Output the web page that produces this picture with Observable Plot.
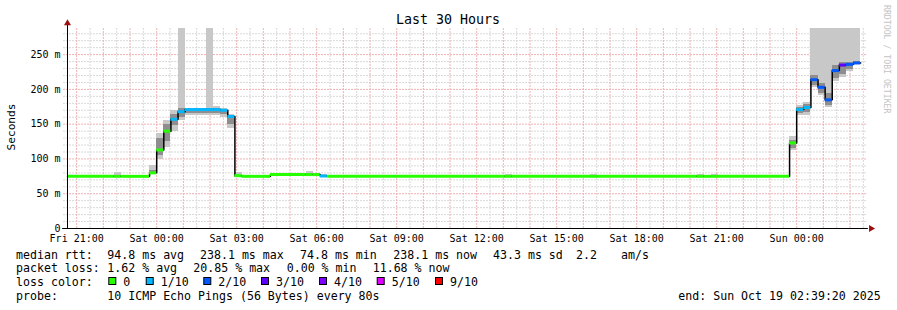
<!DOCTYPE html>
<html><head><meta charset="utf-8">
<script src="https://cdn.jsdelivr.net/npm/d3@7"></script>
<script src="https://cdn.jsdelivr.net/npm/@observablehq/plot@0.6"></script>
<style>
body{margin:0;background:#fff;}
#wrap{position:relative;width:897px;height:310px;background:#fff;overflow:hidden;}
#wrap svg{position:absolute;left:0;top:0;}
</style></head><body><div id="wrap"></div>
<script>
// ---- data (times UTC as shown on chart clock) ----
const rangeStart = "2025-10-17T20:39:20Z";
const rangeEnd = "2025-10-19T02:39:20Z";
const segStart = ["17T20:39:20","17T22:24","17T22:40","17T23:44","18T00:00","18T00:16","18T00:32","18T00:48",
  "18T01:04","18T01:52","18T02:08","18T02:24","18T02:40","18T02:56","18T03:12","18T04:16","18T05:36","18T05:52",
  "18T06:08","18T06:24","18T13:04","18T13:20","18T16:16","18T16:32","18T20:16","18T20:32","18T20:48","18T21:04",
  "18T23:44","19T00:00","19T00:16","19T00:32","19T00:48","19T01:04","19T01:20","19T01:36","19T01:52","19T02:08"];
const lastSegEnd = "19T02:24";
const median = [75,75,75,80,113,140,157,168,171,171,171,170,161,76,75,77.5,77.5,77.5,75.5,75,
  75,75,75,75,75,75,75,75,123,171,174,214,203,185,227,235,236,238];
const lossLevel = [0,0,0,0,0,0,1,1,1,1,1,1,1,0,0,0,0,0,1,0,0,0,0,0,0,0,0,0,0,1,1,2,2,2,2,3,2,2];
const smokeLo = [74,74,74,77,99,117,140,155,163,163,163,160,144,74,74,76,76,76,74,74,
  74,74,74,74,74,74,74,74,112,162,162,203,191,174,212,217,226,237];
const smokeHi = [76,80,76,90,136,156,170,288,172,288,175,172,164,81,76,79,82,79,77,76,
  78,76,78,76,78,76,78,76,132,177,181,288,288,288,288,288,288,288];
const coreLo = [null,null,null,78,105,125,148,160,166,166,166,164,150,null,null,null,null,null,null,null,
  null,null,null,null,null,null,null,null,115,165,167,205,194,177,215,222,228,237];
const coreHi = [null,null,null,84,130,150,164,172,171,172,173,171,160,null,null,null,null,null,null,null,
  null,null,null,null,null,null,null,null,126,174,178,220,209,194,234,239,239,240];
const yTicks = [0,50,100,150,200,250];
const lossLabels = ["0","1/10","2/10","3/10","4/10","5/10","9/10"];
const lossColors = ["#26ff00","#00b8ff","#0059ff","#5e00ff","#7e00ff","#dd00ff","#ff0000"];
const rttStats = ["94.8 ms avg","238.1 ms max","74.8 ms min","238.1 ms now","43.3 ms sd","2.2","am/s"];
const lossStats = ["1.62 % avg","20.85 % max","0.00 % min","11.68 % now"];
const probeText = "10 ICMP Echo Pings (56 Bytes) every 80s";
const endText = "end: Sun Oct 19 02:39:20 2025";
const titleText = "Last 30 Hours";
const yLabel = "Seconds";
const watermark = "RRDTOOL / TOBI OETIKER";

// ---- build ----
const tStart = new Date(rangeStart), tEnd = new Date(rangeEnd);
const toDate = s => new Date("2025-10-" + s + "Z");
const segs = segStart.map((s, i) => ({
  x1: toDate(s), x2: toDate(i < segStart.length - 1 ? segStart[i + 1] : lastSegEnd),
  med: median[i], loss: lossLevel[i], lo: smokeLo[i], hi: smokeHi[i], clo: coreLo[i], chi: coreHi[i]
}));
const stepPts = segs.map(d => ({t: d.x1, v: d.med})).concat([{t: segs[segs.length-1].x2, v: segs[segs.length-1].med}]);
const MIN = 60000;
const hours = d3.utcHour.range(tStart, tEnd);
const halfHours = d3.utcMinute.every(30).range(tStart, tEnd).filter(d => d.getUTCMinutes() === 30);
const yMinor = d3.range(10, 289, 10).filter(v => v % 50 !== 0);
const yMajor = [50,100,150,200,250];
const xTicks = d3.utcHour.every(3).range(tStart, tEnd);
const leftX = new Date(+tStart - 9 * MIN);
const dash = "2,1";

const chart = Plot.plot({
  width: 897, height: 310,
  marginLeft: 67, marginRight: 30, marginTop: 27, marginBottom: 82,
  style: {fontFamily: "'DejaVu Sans Mono', monospace", fontSize: "10px", color: "#000", background: "transparent"},
  x: {type: "utc", domain: [tStart, tEnd], ticks: xTicks, tickFormat: d3.utcFormat("%a %H:%M"), tickSize: 0, tickPadding: 6, label: null},
  y: {domain: [0, 289], ticks: yTicks, tickFormat: d => d === 0 ? "0" : d + " m", tickSize: 0, tickPadding: 7, label: null},
  marks: [
    Plot.ruleY(yMinor, {x1: leftX, x2: tEnd, stroke: "#d9d9d9", strokeDasharray: dash}),
    Plot.ruleX(halfHours, {y1: 0, y2: 289, stroke: "#d9d9d9", strokeDasharray: dash}),
    Plot.ruleX(hours, {y1: 0, y2: 289, stroke: "#f0b2b2", strokeDasharray: dash}),
    Plot.ruleY(yMajor, {x1: leftX, x2: tEnd, stroke: "#f0b2b2", strokeDasharray: dash}),
    Plot.rect(segs, {x1: "x1", x2: "x2", y1: "lo", y2: "hi", fill: "#c8c8c8", shapeRendering: "crispEdges"}),
    Plot.rect(segs.filter(d => d.clo != null), {x1: "x1", x2: "x2", y1: "clo", y2: "chi", fill: "#8e8e8e", shapeRendering: "crispEdges"}),
    Plot.line(stepPts, {x: "t", y: "v", curve: "step-after", stroke: "#000", strokeWidth: 1.5}),
    Plot.ruleY(segs, {y: "med", x1: "x1", x2: "x2", stroke: d => lossColors[d.loss], strokeWidth: 3}),
    Plot.ruleX([tStart], {y1: 0, y2: 293, stroke: "#000"}),
    Plot.ruleY([0], {x1: new Date(+tStart - 11 * MIN), x2: new Date(+tEnd + 2 * MIN), stroke: "#000"}),
    Plot.dot([tStart], {x: d => d, y: 295, symbol: "triangle", r: 2.6, fill: "#9a1010"}),
    Plot.dot([tEnd], {x: d => new Date(+d + 8 * MIN), y: 0, symbol: "triangle", r: 2.6, fill: "#9a1010", rotate: 90})
  ]
});
document.getElementById("wrap").appendChild(chart);

// ---- overlay texts ----
const ov = d3.select("#wrap").append("svg").attr("width", 897).attr("height", 310)
  .attr("font-family", "'DejaVu Sans Mono', monospace").attr("fill", "#000");
ov.append("text").attr("x", 448).attr("y", 24).attr("text-anchor", "middle").attr("font-size", 13.3).text(titleText);
ov.append("text").attr("transform", "translate(15,127) rotate(-90)").attr("text-anchor", "middle").attr("font-size", 11.2).text(yLabel);
ov.append("text").attr("transform", "translate(884,5) rotate(90)").attr("font-size", 8.2).attr("fill", "#c4c4c4").text(watermark);

const fs = 11.6;
const line = (y, x, s) => ov.append("text").attr("x", x).attr("y", y).attr("font-size", fs).style("white-space", "pre").text(s);
line(258.5, 16, "median rtt:");
[107.3, 200, 300, 393.3, 493, 576, 621].forEach((x, i) => line(258.5, x, rttStats[i]));
line(272.3, 16, "packet loss:");
[107.3, 193.3, 286.7, 372.7].forEach((x, i) => line(272.3, x, lossStats[i]));
line(286, 16, "loss color:");
const sqX = [108.3, 145.7, 203.3, 261, 319, 376.7, 435];
sqX.forEach((x, i) => {
  ov.append("rect").attr("x", x + 0.5).attr("y", 277.5).attr("width", 7).attr("height", 7)
    .attr("fill", lossColors[i]).attr("stroke", "#000").attr("stroke-width", 1);
  line(286, x + 15, lossLabels[i]);
});
line(300, 16, "probe:");
line(300, 107.3, probeText);
line(300, 678.3, endText);
</script></body></html>
